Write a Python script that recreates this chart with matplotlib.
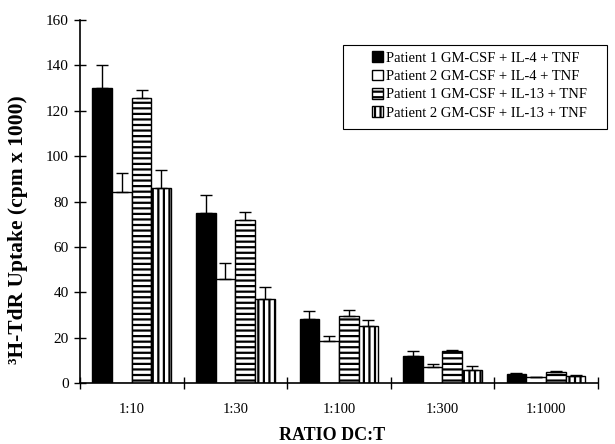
import numpy as np
import matplotlib
matplotlib.use('Agg')
import matplotlib.pyplot as plt
from matplotlib.patches import Rectangle

# --- Data ---
ratios = ['1:10', '1:30', '1:100', '1:300', '1:1000']
series = ['Patient 1 GM-CSF + IL-4 + TNF', 'Patient 2 GM-CSF + IL-4 + TNF',
          'Patient 1 GM-CSF + IL-13 + TNF', 'Patient 2 GM-CSF + IL-13 + TNF']
p1_il4 = [130.0, 75.0, 28.2, 12.0, 4.0]
p2_il4 = [84.0, 46.0, 18.4, 7.0, 2.6]
p1_il13 = [125.5, 72.0, 29.7, 14.0, 5.1]
p2_il13 = [86.0, 37.2, 25.0, 5.9, 3.0]
p1_il4_err = [10.0, 8.0, 3.4, 2.3, 0.5]
p2_il4_err = [8.5, 7.0, 2.2, 1.3, 0.3]
p1_il13_err = [3.5, 3.5, 2.6, 0.4, 0.4]
p2_il13_err = [8.0, 5.0, 2.8, 1.8, 0.4]

plt.rcParams['font.family'] = ['Liberation Serif', 'DejaVu Serif']
plt.rcParams['hatch.linewidth'] = 1.6

fig = plt.figure(figsize=(6.15, 4.44), dpi=100)
ax = fig.add_axes([0.130, 0.137, 0.842, 0.818])

x = np.arange(len(ratios))
w = 0.19
values = [p1_il4, p2_il4, p1_il13, p2_il13]
errors = [p1_il4_err, p2_il4_err, p1_il13_err, p2_il13_err]
fills = ['black', 'white', 'white', 'white']
hatches = [None, None, '---', '|||']

for i in range(4):
    ax.bar(x + (i - 1.5) * w, values[i], w, color=fills[i], edgecolor='black',
           linewidth=1.0, hatch=hatches[i], label=series[i],
           yerr=[np.zeros(5), errors[i]], error_kw=dict(ecolor='black', elinewidth=1.0,
                                                        capsize=4, capthick=1.0))

ax.set_xlim(-0.5, 4.5)
ax.set_ylim(0, 160)
ax.set_yticks(np.arange(0, 161, 20))
ax.set_xticks(np.arange(-0.5, 4.6, 1.0))
ax.set_xticklabels([])
ax.set_xticks(x, minor=True)
ax.set_xticklabels(ratios, minor=True)
ax.tick_params(axis='x', which='minor', length=0, pad=14, labelsize=10.5)
ax.tick_params(axis='x', which='major', direction='inout', length=8, width=1)
ax.tick_params(axis='y', direction='inout', length=8, width=1, labelsize=11, pad=4)
for s in ['top', 'right']:
    ax.spines[s].set_visible(False)
for s in ['left', 'bottom']:
    ax.spines[s].set_linewidth(1.2)

fig.text(0.030, 0.482, '³H-TdR Uptake (cpm x 1000)', rotation=90, ha='center', va='center',
         fontsize=15.5, fontweight='bold')
fig.text(0.540, 0.0, 'RATIO DC:T', ha='center', va='bottom', fontsize=13, fontweight='bold')

# legend box (frame drawn separately, wider on the left like the original)
box = Rectangle((343 / 615, 1 - 129 / 444), 264 / 615, 84 / 444,
                transform=fig.transFigure, facecolor='white',
                edgecolor='black', linewidth=0.8, clip_on=False, zorder=5)
ax.add_patch(box)
leg = ax.legend(loc='upper right', bbox_to_anchor=(591 / 615, 1 - 47 / 444),
                bbox_transform=fig.transFigure, fontsize=10.5, frameon=False,
                handlelength=0.75, handleheight=0.75, handletextpad=0.2, borderpad=0.3,
                labelspacing=0.33, borderaxespad=0)
leg.set_zorder(6)

plt.savefig('out.png', dpi=100)
